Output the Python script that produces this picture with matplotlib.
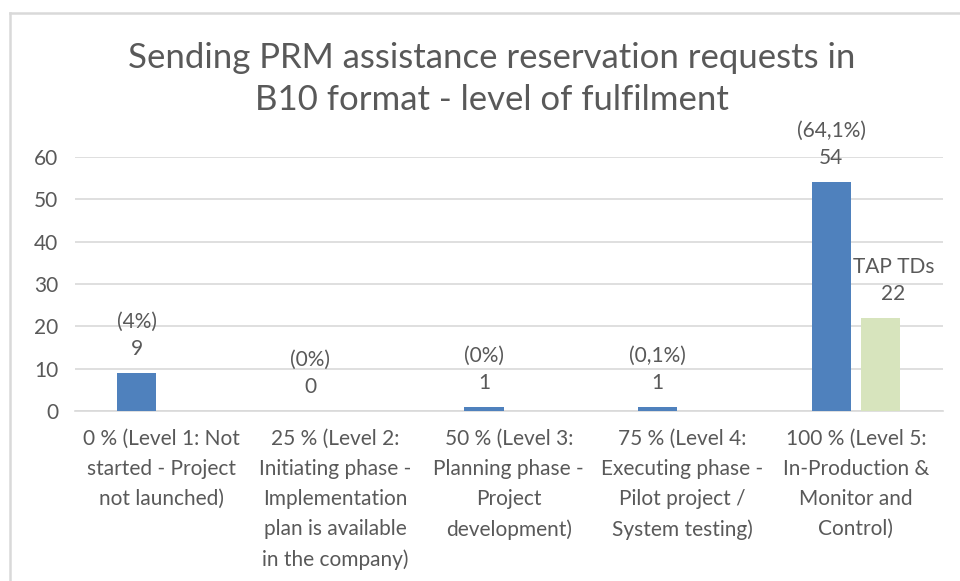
import numpy as np
import matplotlib.pyplot as plt
from matplotlib.lines import Line2D

plt.rcParams['font.family'] = ['Lato', 'DejaVu Sans']

categories = [
    "0 % (Level 1: Not\nstarted - Project\nnot launched)",
    "25 % (Level 2:\nInitiating phase -\nImplementation\nplan is available\nin the company)",
    "50 % (Level 3:\nPlanning phase -\nProject\ndevelopment)",
    "75 % (Level 4:\nExecuting phase -\nPilot project /\nSystem testing)",
    "100 % (Level 5:\nIn-Production &\nMonitor and\nControl)",
]
all_values = [9, 0, 1, 1, 54]
all_shares = ["(4%)", "(0%)", "(0%)", "(0,1%)", "(64,1%)"]
tap_values = [0, 0, 0, 0, 22]
tap_name = "TAP TDs"

blue = '#4F81BD'
green = '#D7E4BD'
grey_text = '#595959'
grid_col = '#D9D9D9'

fig = plt.figure(figsize=(9.6, 5.81), dpi=100)
ax = fig.add_axes([0.078, 0.2926, 0.904, 0.4372])

x = np.arange(len(categories))
w = 0.225
off = 0.143
ax.bar(x - off, all_values, w, color=blue, zorder=3)
ax.bar(x + off, tap_values, w, color=green, zorder=3)

for i in range(len(categories)):
    ax.annotate(all_shares[i] + "\n" + str(all_values[i]), (x[i] - off, all_values[i]),
                xytext=(0, 10), textcoords='offset points', ha='center', va='bottom',
                fontsize=15, color=grey_text, linespacing=1.45)
    if tap_values[i] > 0:
        ax.annotate(tap_name + "\n" + str(tap_values[i]), (x[i] + off, tap_values[i]),
                    xytext=(9, 10), textcoords='offset points', ha='center', va='bottom',
                    fontsize=15, color=grey_text, linespacing=1.45)

ax.set_xlim(-0.5, len(categories) - 0.5)
ax.set_ylim(0, 60)
ax.set_yticks(range(0, 61, 10))
ax.yaxis.grid(True, color=grid_col, linewidth=1.2, zorder=0)
ax.set_xticks(x)
ax.set_xticklabels(categories, linespacing=1.62)
ax.tick_params(axis='both', length=0, labelsize=15, colors=grey_text)
ax.tick_params(axis='y', pad=12)
ax.tick_params(axis='x', pad=13)
for s in ['top', 'right', 'left']:
    ax.spines[s].set_visible(False)
ax.spines['bottom'].set_color(grid_col)
ax.spines['bottom'].set_linewidth(1.2)

fig.text(0.5125, 0.864, "Sending PRM assistance reservation requests in\nB10 format - level of fulfilment",
         ha='center', va='center', fontsize=25, color=grey_text, linespacing=1.38)

# outer chart frame
fig.add_artist(Line2D([0.0104, 0.0104], [0, 0.9776], color=grid_col, linewidth=1.8))
fig.add_artist(Line2D([0.0104, 1], [0.9776, 0.9776], color=grid_col, linewidth=1.8))

fig.savefig('out.png', dpi=100)
